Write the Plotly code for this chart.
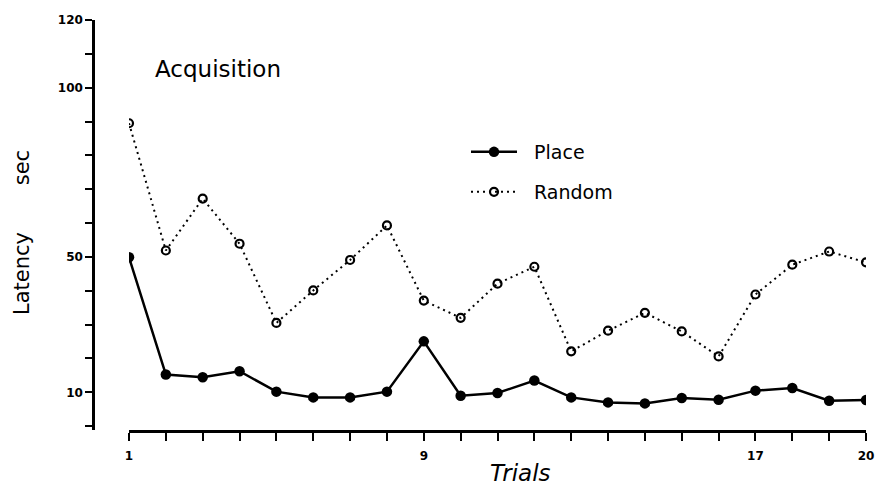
import plotly.graph_objects as go

# ---- data ----
trials = list(range(1, 22))
x_tick_labels = ["1", "", "", "", "", "", "", "", "9", "", "", "", "", "", "", "", "", "17", "", "", "20"]
place = [49.9, 15.25, 14.46, 16.24, 10.2, 8.5, 8.5, 10.2, 25.06, 9.0, 9.8,
         13.47, 8.5, 7.03, 6.73, 8.3, 7.8, 10.5, 11.29, 7.5, 7.7]
random_ = [89.5, 51.9, 67.2, 53.9, 30.5, 40.1, 49.1, 59.3, 37.1, 32.0, 42.1,
           47.1, 22.1, 28.2, 33.5, 28.0, 20.6, 38.9, 47.7, 51.6, 48.4]
y_tick_vals = [0, 10, 20, 30, 40, 50, 60, 70, 80, 90, 100, 110, 120]
y_tick_labels = ["", "10", "", "", "", "50", "", "", "", "", "100", "", "120"]

FONT = "DejaVu Sans"
PL, PR, PT, PB = 93, 866, 20, 430   # plot area in pixels
PW, PH = PR - PL, PB - PT


def px(x):
    return (x - PL) / PW


def py(y):
    return (PB - y) / PH


fig = go.Figure()
fig.add_trace(go.Scatter(
    x=trials, y=place, name="\u00a0\u00a0Place", mode="lines+markers",
    line=dict(color="black", width=2.5),
    marker=dict(symbol="circle", size=10.5, color="black"),
    legend="legend",
))
fig.add_trace(go.Scatter(
    x=trials, y=random_, name="\u00a0\u00a0Random", mode="lines+markers",
    line=dict(color="black", width=2, dash="2px,4px"),
    marker=dict(symbol="circle-open", size=8, color="black", line=dict(width=2.2)),
    legend="legend2",
))

fig.update_layout(
    width=876, height=487,
    margin=dict(l=PL, r=876 - PR, t=PT, b=487 - PB),
    paper_bgcolor="white", plot_bgcolor="white",
    font=dict(family=FONT, color="black"),
    showlegend=True,
    xaxis=dict(
        domain=[(129 - PL) / PW, 1.0],
        range=[1, 21],
        tickmode="array", tickvals=trials, ticktext=x_tick_labels,
        ticks="outside", ticklen=8, tickwidth=2, tickcolor="black",
        showline=True, linewidth=2.5, linecolor="black",
        showgrid=False, zeroline=False, automargin=False,
        ticklabelstandoff=5,
        tickfont=dict(size=12, family=FONT, weight="bold"),
    ),
    yaxis=dict(
        anchor="free", position=0,
        range=[-1.13, 120],
        tickmode="array", tickvals=y_tick_vals, ticktext=y_tick_labels,
        ticks="outside", ticklen=7, tickwidth=2, tickcolor="black",
        showline=True, linewidth=2.5, linecolor="black",
        showgrid=False, zeroline=False, automargin=False,
        tickfont=dict(size=12, family=FONT, weight="bold"),
    ),
    legend=dict(
        x=px(466), y=py(152), xanchor="left", yanchor="middle",
        bgcolor="rgba(0,0,0,0)", font=dict(size=19, family=FONT),
        itemwidth=46,
    ),
    legend2=dict(
        x=px(466), y=py(192), xanchor="left", yanchor="middle",
        bgcolor="rgba(0,0,0,0)", font=dict(size=19, family=FONT),
        itemwidth=46,
    ),
    annotations=[
        dict(text="Acquisition", xref="paper", yref="paper",
             x=px(153), y=py(69), xanchor="left", yanchor="middle",
             showarrow=False, font=dict(size=23, family=FONT)),
        dict(text="<i>Trials</i>", xref="paper", yref="paper",
             x=px(520), y=py(473), xanchor="center", yanchor="middle",
             showarrow=False, font=dict(size=23, family=FONT)),
        dict(text="Latency\u00a0\u00a0\u00a0\u00a0\u00a0\u00a0\u00a0sec", xref="paper", yref="paper",
             x=px(22), y=py(233), xanchor="center", yanchor="middle",
             textangle=-90, showarrow=False, font=dict(size=21, family=FONT)),
    ],
)

fig.write_html("out.html", config={"displayModeBar": False},
               post_script="document.body.style.margin='0';")
